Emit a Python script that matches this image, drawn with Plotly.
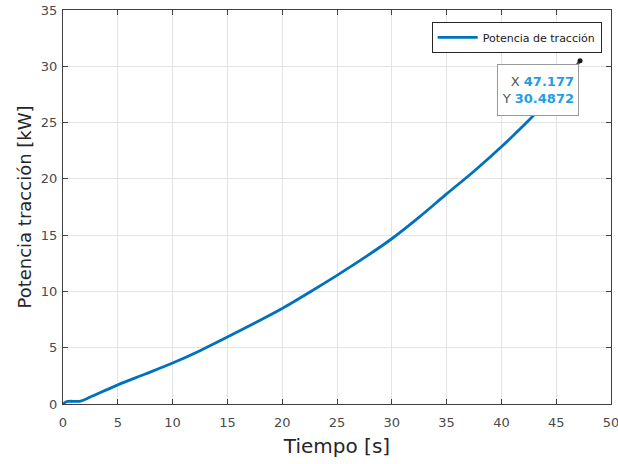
import plotly.graph_objects as go

# Traction power vs. time
tiempo = [0, 0.35, 1.6, 2.5, 5, 7.5, 10, 12.5, 15, 17.5, 20, 22.5, 25,
          27.5, 30, 32.5, 35, 37.5, 40, 42.5, 45, 47.177]
potencia = [0, 0.22, 0.25, 0.62, 1.7, 2.66, 3.64, 4.74, 5.95, 7.2, 8.49, 9.93, 11.43,
            13.0, 14.68, 16.6, 18.66, 20.68, 22.85, 25.2, 27.8, 30.4872]

# Selected data point shown in the data tip
tip_x = 47.177
tip_y = 30.4872

x_ticks = [0, 5, 10, 15, 20, 25, 30, 35, 40, 45, 50]
y_ticks = [0, 5, 10, 15, 20, 25, 30, 35]

line_blue = "#0072BD"
axis_col = "#404040"
grid_col = "#e3e3e3"
font_fam = "DejaVu Sans, Liberation Sans, Arial, sans-serif"

fig = go.Figure()
fig.add_trace(go.Scatter(
    x=tiempo, y=potencia, mode="lines",
    line=dict(color=line_blue, width=2.8, shape="spline", smoothing=0.8),
    name="Potencia de tracción",
))
fig.add_trace(go.Scatter(
    x=[tip_x], y=[tip_y], mode="markers",
    marker=dict(color="#1a1a1a", size=5),
    showlegend=False, hoverinfo="skip",
))

fig.add_annotation(
    x=tip_x, y=tip_y, xref="x", yref="y",
    xanchor="right", yanchor="top", showarrow=False,
    xshift=-1, yshift=-3,
    text=(f"<span style='color:#555555'>X</span> "
          f"<b><span style='color:#1f9ee6'>{tip_x:g}</span></b><br>"
          f"<span style='color:#555555'>Y</span> "
          f"<b><span style='color:#1f9ee6'>{tip_y:g}</span></b>"),
    align="right",
    font=dict(family=font_fam, size=13),
    bgcolor="white", bordercolor="#9a9a9a", borderwidth=1, borderpad=4,
    width=72, height=42,
)

axis_common = dict(
    showline=True, linecolor=axis_col, linewidth=1, mirror="ticks",
    ticks="inside", ticklen=5, tickcolor=axis_col,
    showgrid=True, gridcolor=grid_col, gridwidth=1,
    zeroline=False,
    tickfont=dict(family=font_fam, size=13, color="#4a4a4a"),
    ticklabeloverflow="allow",
)

fig.update_xaxes(
    range=[0, 50], tickvals=x_ticks, ticktext=[str(v) for v in x_ticks],
    title=dict(text="Tiempo [s]", font=dict(family=font_fam, size=20, color="#262626"),
               standoff=10),
    ticklabelstandoff=6,
    **axis_common,
)
fig.update_yaxes(
    range=[0, 35], tickvals=y_ticks, ticktext=[str(v) for v in y_ticks],
    title=dict(text="Potencia tracción [kW]", font=dict(family=font_fam, size=18, color="#262626"),
               standoff=4),
    ticklabelstandoff=2,
    **axis_common,
)

fig.update_layout(
    width=618, height=464,
    margin=dict(l=63, r=7, t=10, b=60, autoexpand=False),
    paper_bgcolor="white", plot_bgcolor="white",
    showlegend=True,
    legend=dict(
        x=0.983, y=0.97, xanchor="right", yanchor="top",
        bgcolor="white", bordercolor="#262626", borderwidth=1,
        font=dict(family=font_fam, size=11, color="#1a1a1a"),
        itemwidth=40, tracegroupgap=0,
    ),
)

fig.write_html("out.html")
